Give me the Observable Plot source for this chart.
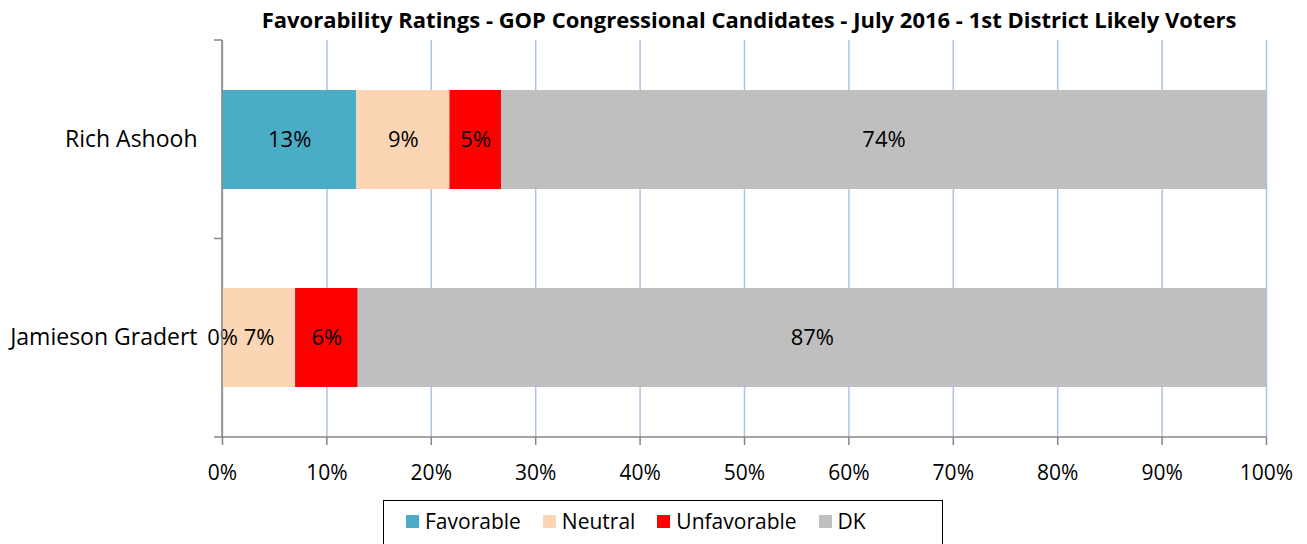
<!DOCTYPE html>
<html><head><meta charset="utf-8">
<script src="https://cdn.jsdelivr.net/npm/d3@7"></script>
<script src="https://cdn.jsdelivr.net/npm/@observablehq/plot@0.6"></script>
<style>
body{margin:0;background:#fff;font-family:"Open Sans",sans-serif;}
#wrap{position:relative;width:1307px;height:544px;overflow:hidden;background:#fff;}
#title{position:absolute;left:0;top:5px;width:1498px;text-align:center;font-weight:bold;font-size:22px;line-height:28px;color:#000;}
#chart{position:absolute;left:0;top:0;}
#legend{position:absolute;left:383px;top:500px;width:560px;height:50px;border:1.5px solid #000;box-sizing:border-box;display:flex;align-items:flex-start;padding:6px 0 0 22px;gap:22px;font-size:21px;line-height:28px;}
.item{display:flex;align-items:center;gap:6px;}
.sw{width:13px;height:13px;display:inline-block;}
</style></head>
<body>
<div id="wrap">
  <div id="chart"></div>
  <div id="title">Favorability Ratings - GOP Congressional Candidates - July 2016 - 1st District Likely Voters</div>
  <div id="legend"></div>
</div>
<script>
const candidates = ["Rich Ashooh", "Jamieson Gradert"];
const categories = ["Favorable", "Neutral", "Unfavorable", "DK"];
const colors = ["#4bacc6", "#fcd5b5", "#ff0000", "#bfbfbf"];
const favorable = [13, 0];
const neutral = [9, 7];
const unfavorable = [5, 6];
const dk = [74, 87];
const xTicks = [0, 0.1, 0.2, 0.3, 0.4, 0.5, 0.6, 0.7, 0.8, 0.9, 1];

const series = [favorable, neutral, unfavorable, dk];
const data = [];
candidates.forEach((c, i) => categories.forEach((k, j) => data.push({name: c, cat: k, value: series[j][i]})));

const W = 1307, H = 490, mt = 40, mb = 53, ml = 222, mr = 41;
const axisColor = "#868686";

function axesMark(index, scales, values, dims) {
  const g = d3.create("svg:g");
  const top = dims.marginTop, bottom = dims.height - dims.marginBottom;
  const left = dims.marginLeft, right = dims.width - dims.marginRight;
  const mid = (top + bottom) / 2;
  g.append("line").attr("x1", left).attr("x2", left).attr("y1", top).attr("y2", bottom)
    .attr("stroke", axisColor).attr("stroke-width", 1.5);
  g.append("line").attr("x1", left - 8).attr("x2", right).attr("y1", bottom).attr("y2", bottom)
    .attr("stroke", axisColor).attr("stroke-width", 1.5);
  for (const y of [top, mid]) {
    g.append("line").attr("x1", left - 8).attr("x2", left).attr("y1", y).attr("y2", y)
      .attr("stroke", axisColor).attr("stroke-width", 1.5);
  }
  return g.node();
}

const chart = Plot.plot({
  width: W, height: H,
  marginTop: mt, marginBottom: mb, marginLeft: ml, marginRight: mr,
  style: {fontFamily: "Open Sans, sans-serif", fontSize: "21px", color: "#000", background: "transparent"},
  x: {domain: [0, 1], label: null},
  y: {domain: candidates, label: null, paddingInner: 0.5, paddingOuter: 0.25},
  color: {domain: categories, range: colors},
  marks: [
    Plot.gridX(xTicks, {stroke: "#adc2e8", strokeOpacity: 1, strokeWidth: 1.5}),
    Plot.barX(data, Plot.stackX({x: "value", y: "name", fill: "cat", order: categories, offset: "normalize"})),
    Plot.text(data, Plot.stackX({x: "value", y: "name", z: "cat", order: categories, offset: "normalize",
      text: d => d.value + "%", fill: "#000", fontSize: 22})),
    axesMark,
    Plot.axisX(xTicks, {tickFormat: d3.format(".0%"), tickSize: 8, tickPadding: 20, stroke: axisColor, strokeWidth: 1.5, strokeOpacity: 1, fill: "#000", fontSize: 21}),
    Plot.axisY({tickSize: 0, tickPadding: 25, fill: "#000", fontSize: 23})
  ]
});
document.getElementById("chart").appendChild(chart);

const legend = document.getElementById("legend");
categories.forEach((c, i) => {
  const it = document.createElement("div");
  it.className = "item";
  it.innerHTML = `<span class="sw" style="background:${colors[i]}"></span><span>${c}</span>`;
  legend.appendChild(it);
});
</script>
</body></html>
